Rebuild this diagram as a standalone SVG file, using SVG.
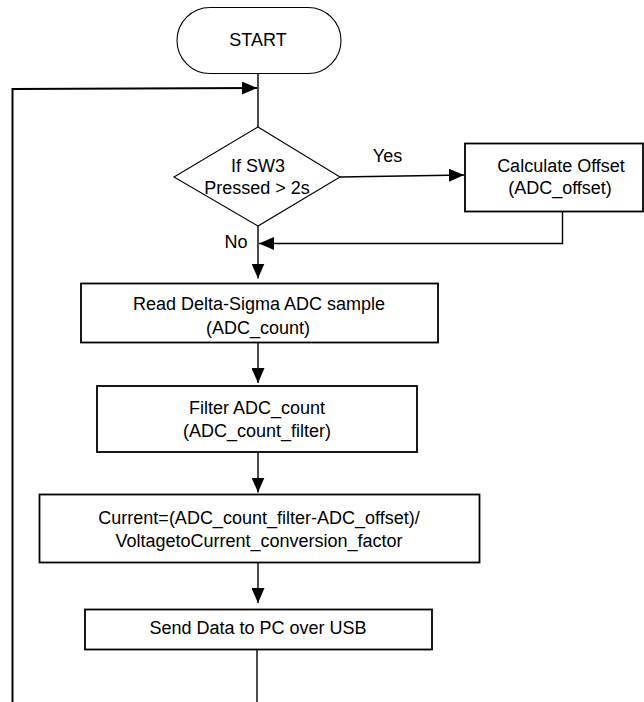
<svg xmlns="http://www.w3.org/2000/svg" width="644" height="702" viewBox="0 0 644 702">
<style>
  .box { fill: #ffffff; stroke: #000000; stroke-width: 1.8; }
  .thin { fill: #ffffff; stroke: #000000; stroke-width: 1.1; }
  .conn { fill: none; stroke: #000000; stroke-width: 1.4; }
  .loop { fill: none; stroke: #000000; stroke-width: 2; }
  text { font-family: "Liberation Sans", Arial, sans-serif; font-size: 18px; fill: #000000; text-anchor: middle; }
</style>
<defs>
  <marker id="arrow" markerUnits="userSpaceOnUse" markerWidth="15" markerHeight="13" refX="15" refY="6.5" orient="auto">
    <path d="M0,0 L15,6.5 L0,13 Z" fill="#000000"/>
  </marker>
</defs>
<rect width="644" height="702" fill="#ffffff"/>
<g id="connectors">
  <path class="loop" d="M12.5,702 L12.5,89 L257,88" marker-end="url(#arrow)"/>
  <path class="conn" d="M258,73.5 L258,127"/>
  <path class="conn" d="M340,177 L464,175" marker-end="url(#arrow)"/>
  <path class="conn" d="M562.5,211.5 L562.5,243.5 L259,243.5" marker-end="url(#arrow)"/>
  <path class="conn" d="M258,226 L258,278.5" marker-end="url(#arrow)"/>
  <path class="conn" d="M258,342.5 L258,383" marker-end="url(#arrow)"/>
  <path class="conn" d="M258,452 L258,492.5" marker-end="url(#arrow)"/>
  <path class="conn" d="M258,562.5 L258,603" marker-end="url(#arrow)"/>
  <path class="conn" d="M257,649 L257,702"/>
</g>
<g id="start">
  <rect class="thin" x="177" y="7.5" width="164" height="66" rx="33" ry="33"/>
  <text x="258" y="46">START</text>
</g>
<g id="decision">
  <polygon class="thin" points="258,127 340,177 258,226 174,177"/>
  <text x="258" y="172">If SW3</text>
  <text x="257" y="194">Pressed &gt; 2s</text>
</g>
<g id="labels">
  <text x="387.5" y="162">Yes</text>
  <text x="236" y="248">No</text>
</g>
<g id="calc-offset">
  <rect class="box" x="465" y="143.5" width="178" height="68"/>
  <text x="561" y="172">Calculate Offset</text>
  <text x="560" y="194">(ADC_offset)</text>
</g>
<g id="read-adc">
  <rect class="box" x="81" y="283.5" width="357" height="59"/>
  <text x="259" y="310">Read Delta-Sigma ADC sample</text>
  <text x="258" y="334">(ADC_count)</text>
</g>
<g id="filter">
  <rect class="box" x="97" y="386" width="320" height="66"/>
  <text x="257" y="414">Filter ADC_count</text>
  <text x="257" y="437">(ADC_count_filter)</text>
</g>
<g id="current">
  <rect class="box" x="39.5" y="494.5" width="440" height="68"/>
  <text x="259" y="524">Current=(ADC_count_filter-ADC_offset)/</text>
  <text x="259" y="547">VoltagetoCurrent_conversion_factor</text>
</g>
<g id="send">
  <rect class="box" x="85" y="609.5" width="347" height="40"/>
  <text x="258" y="634">Send Data to PC over USB</text>
</g>
</svg>
